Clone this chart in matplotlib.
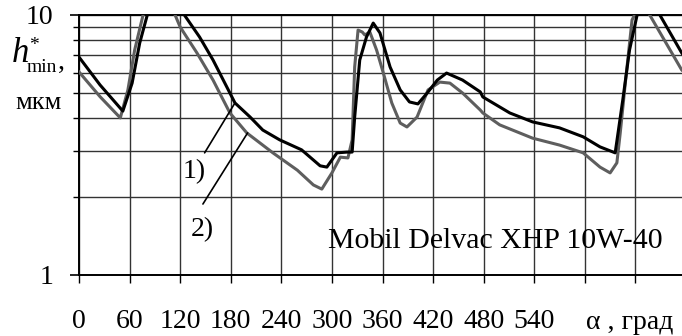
import matplotlib
matplotlib.use('Agg')
import matplotlib.pyplot as plt
from matplotlib.ticker import LogLocator, NullFormatter, FixedLocator

plt.rcParams['font.family'] = ['Liberation Serif', 'DejaVu Serif']

# curve 1) (black)
angle_1 = [0, 25, 52, 63, 72, 81, 90, 103, 115, 125, 143, 159, 185, 203, 218, 238, 264, 286, 294,
           306, 318, 324, 327, 333, 341, 349, 357, 369, 381, 392, 402, 413, 425, 436, 455, 476,
           479, 511, 538, 570, 598, 618, 636, 645, 653, 662, 670, 680, 689, 715, 720]
h_1 = [6.89, 5.38, 4.27, 5.47, 7.8, 10.0, 13, 15, 13, 10.0, 8.23, 6.71, 4.59, 4.05, 3.61, 3.31, 3.03, 2.63, 2.60,
       2.95, 2.97, 2.97, 4.05, 6.71, 8.23, 9.31, 8.53, 6.31, 5.15, 4.63, 4.55, 5.01, 5.62, 5.98, 5.62, 5.06,
       4.84, 4.2, 3.88, 3.68, 3.40, 3.11, 2.95, 4.71, 7.33, 10.0, 12, 12, 10.0, 7.14, 6.8]

# curve 2) (grey)
angle_2 = [0, 25, 49, 58, 66, 76, 85, 95, 105, 114, 120, 140, 159, 179, 199, 230, 259, 278, 288, 300,
           310, 319, 324, 327, 331, 336, 339, 345, 353, 361, 371, 381, 389, 401, 414, 428, 440, 455,
           476, 479, 499, 538, 570, 598, 618, 630, 638, 642, 648, 656, 659, 665, 671, 677, 715, 720]
h_2 = [6.04, 4.85, 4.02, 5.15, 7.33, 10.0, 13, 15, 13, 10.0, 8.99, 7.14, 5.62, 4.20, 3.52, 2.95, 2.53, 2.22, 2.14, 2.47,
       2.84, 2.82, 3.31, 6.31, 8.75, 8.6, 8.38, 8.6, 7.33, 5.98, 4.59, 3.84, 3.71, 4.05, 5.15, 5.52, 5.47, 5.01,
       4.31, 4.2, 3.78, 3.36, 3.16, 2.95, 2.60, 2.47, 2.70, 3.52, 5.47, 9.57, 10.0, 12, 11.5, 10.0, 6.14, 5.95]

x_ticks = list(range(0, 721, 60))
x_labels = ['0', '60', '120', '180', '240', '300', '360', '420', '480', '540', '', '', '']
oil_name = 'Mobil Delvac XHP 10W-40'

W, H = 682, 336
fig = plt.figure(figsize=(W / 100, H / 100), dpi=100)
# plot box: left 79px, right 686px (just past the image edge), top 15px, bottom 275px
ax = fig.add_axes([79 / W, (H - 275) / H, (686 - 79) / W, (275 - 15) / H])

ax.plot(angle_2, h_2, color='#5e5e5e', lw=2.2, zorder=3)
ax.plot(angle_1, h_1, color='black', lw=2.2, zorder=4)

ax.set_yscale('log')
ax.set_ylim(1, 10)
ax.set_xlim(0, 720)

ax.yaxis.set_major_locator(FixedLocator([1, 10]))
ax.set_yticklabels(['1', '10'])
ax.yaxis.set_minor_locator(LogLocator(subs=range(2, 10)))
ax.yaxis.set_minor_formatter(NullFormatter())
ax.set_xticks(x_ticks)
ax.set_xticklabels(x_labels)

ax.grid(True, which='both', axis='y', color='#333333', lw=1.0)
ax.grid(True, which='major', axis='x', color='#333333', lw=1.0)
ax.set_axisbelow(True)

ax.tick_params(axis='y', which='major', direction='out', length=6.5, width=1.2, pad=12, labelsize=20)
ax.tick_params(axis='y', which='minor', direction='out', length=4.3, width=1.0)
ax.tick_params(axis='x', direction='out', length=5.8, width=1.0, pad=19, labelsize=20)

for s in ['left', 'bottom', 'top']:
    ax.spines[s].set_linewidth(1.4)
ax.spines['right'].set_visible(False)

# leader lines to the curves
ax.annotate('', xy=(185, 4.59), xytext=(149, 2.95),
            arrowprops=dict(arrowstyle='-', lw=1.2, color='black', shrinkA=0, shrinkB=0))
ax.annotate('', xy=(200, 3.52), xytext=(147, 1.875),
            arrowprops=dict(arrowstyle='-', lw=1.2, color='black', shrinkA=0, shrinkB=0))
ax.text(137, 2.49, '1)', fontsize=20, ha='center', va='center')
ax.text(146, 1.50, '2)', fontsize=20, ha='center', va='center')
ax.text(494, 1.35, oil_name, fontsize=21.5, ha='center', va='center')

ax.annotate('α , град', xy=(600, 0), xycoords=('data', 'axes fraction'),
            xytext=(1, -34), textcoords='offset points', fontsize=20, ha='left', va='center')

# y axis caption: h*_min ,  / мкм
fig.text(20 / W, 1 - 53 / H, 'h', fontsize=25, style='italic', ha='center', va='center')
fig.text(34 / W, 1 - 45 / H, '*', fontsize=14, ha='center', va='center')
fig.text(42 / W, 1 - 67 / H, 'min', fontsize=14, ha='center', va='center')
fig.text(61 / W, 1 - 62 / H, ',', fontsize=20, ha='center', va='center')
fig.text(39 / W, 1 - 103 / H, 'мкм', fontsize=19, ha='center', va='center')

fig.savefig('out.png', dpi=100)
